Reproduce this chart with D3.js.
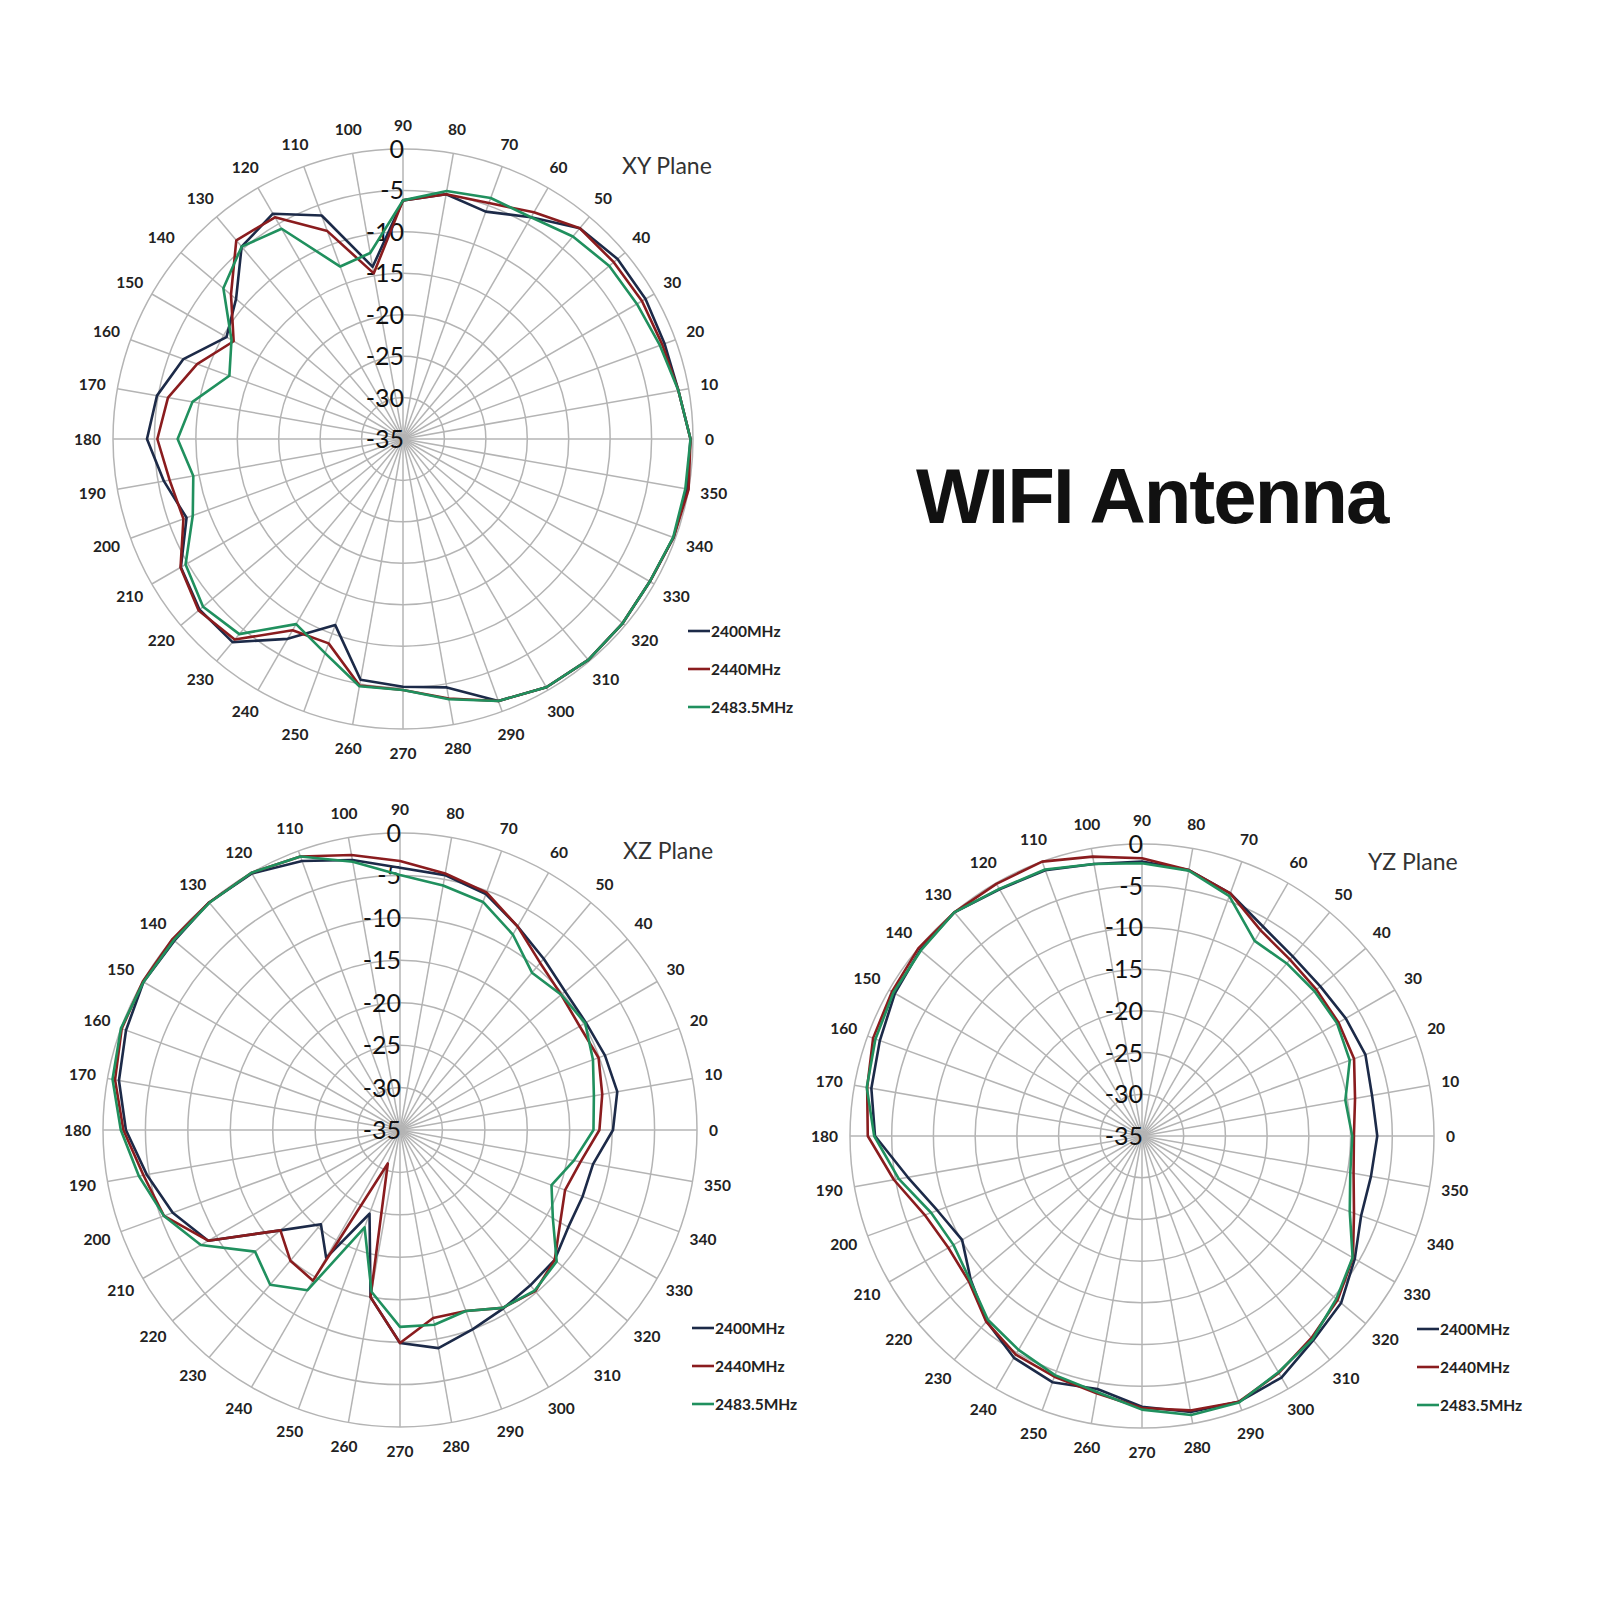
<!DOCTYPE html>
<html><head><meta charset="utf-8">
<script src="https://cdn.jsdelivr.net/npm/d3@7/dist/d3.min.js"></script>
<style>body{margin:0;background:#fff} svg{display:block}</style>
</head><body>
<svg id="c" width="1600" height="1600"></svg>
<script>
// ---------- data ----------
const angles = [0,10,20,30,40,50,60,70,80,90,100,110,120,130,140,150,160,170,
                180,190,200,210,220,230,240,250,260,270,280,290,300,310,320,330,340,350];
const dbTicks = [0,-5,-10,-15,-20,-25,-30,-35];
const seriesNames = ["2400MHz","2440MHz","2483.5MHz"];
const planeTitles = ["XY Plane","XZ Plane","YZ Plane"];
const mainTitle = "WIFI Antenna";

const xy2400 = [-0.3,-1.25,-1.4,-1.2,-1.2,-1.8,-4.1,-5.8,-5.0,-6.2,-13.9,-6.3,-3.6,-4.7,-8.7,-10.4,-6.8,-4.85,
                -4.1,-5.7,-7.2,-4.05,-2.95,-3.0,-7.15,-11.1,-5.5,-5.1,-4.56,-1.35,-0.4,-0.2,-0.4,-0.6,-0.25,-0.2];
const xy2440 = [-0.3,-1.25,-1.7,-1.7,-1.8,-1.8,-3.4,-4.7,-5.0,-6.2,-14.7,-8.3,-4.1,-3.7,-7.9,-11.4,-8.55,-6.2,
                -5.35,-6.4,-6.8,-4.0,-2.8,-3.4,-8.35,-8.75,-4.8,-4.7,-3.2,-1.35,-0.4,-0.2,-0.4,-0.6,-0.25,0];
const xy2483 = [-0.3,-1.25,-2.0,-2.4,-2.5,-3.1,-4.1,-4.05,-4.6,-6.2,-12.2,-12.85,-5.7,-4.7,-6.7,-11.1,-12.7,-9.2,
                -7.8,-9.3,-8.0,-4.7,-3.5,-4.26,-9.2,-7.5,-4.7,-4.7,-3.1,-1.35,-0.4,-0.2,-0.4,-0.6,-0.3,-0.4];

const xz2400 = [-9.9,-9.0,-9.3,-9.7,-9.6,-8.65,-7.3,-5.4,-4.5,-4.1,-2.7,-1.26,-0.1,0,-0.3,-0.1,-0.64,-1.37,
                -2.7,-4.7,-6.5,-8.9,-16.6,-20.5,-17.6,-24.5,-15.0,-9.9,-8.9,-10.0,-10.7,-11.1,-11.2,-12.1,-12.1,-11.9];
const xz2440 = [-11.5,-10.8,-10.1,-10.55,-10.2,-9.3,-7.3,-5.2,-4.3,-3.3,-2.1,-0.7,0,0,0,0,-0.1,-0.9,
                -2.4,-4.3,-5.4,-8.9,-16.6,-14.9,-14.5,-30.8,-15.0,-9.9,-12.5,-12.3,-10.8,-10.2,-11.2,-13.2,-14.3,-13.4];
const xz2483 = [-12.2,-11.8,-10.8,-9.8,-10.2,-10.8,-8.4,-6.4,-5.75,-4.95,-2.9,-0.7,0,-0.05,-0.2,-0.1,0,-0.6,
                -2.1,-3.75,-5.4,-7.9,-12.7,-11.2,-13.2,-22.8,-15.65,-11.8,-11.7,-12.3,-10.8,-10.3,-10.9,-14.2,-16.0,-14.2];

const yz2400 = [-6.8,-7.0,-6.5,-6.8,-7.1,-6.9,-6.0,-4.05,-2.64,-2.1,-1.9,-1.1,-0.85,0,-0.3,-0.8,-1.56,-2.06,
                -3.0,-6.5,-8.9,-10.1,-8.2,-6.0,-4.3,-3.6,-4.2,-2.55,-1.4,-1.1,-1.57,-3.05,-3.85,-5.55,-7.05,-7.13];
const yz2440 = [-9.6,-9.07,-7.95,-7.8,-7.7,-7.4,-6.55,-4.05,-2.64,-1.7,-1.0,0,-0.1,0,0,-0.4,-0.7,-1.55,
                -2.13,-4.8,-7.3,-8.2,-7.9,-5.95,-4.75,-4.3,-3.7,-2.4,-1.6,-1.1,-2.2,-3.4,-4.4,-5.8,-7.96,-9.25];
const yz2483 = [-9.8,-10.25,-8.5,-8.0,-8.0,-8.0,-8.0,-4.4,-2.7,-2.3,-1.9,-1.0,-0.8,0,-0.4,-0.6,-1.0,-1.5,
                -2.9,-5.4,-8.1,-8.9,-8.1,-6.25,-5.4,-4.5,-3.85,-2.2,-1.05,-1.0,-2.3,-3.2,-4.6,-5.85,-8.5,-9.65];

// ---------- layout / style ----------
const colors = ["#1c2a48","#8a1c1e","#20905e"];
const panels = [
  {title:planeTitles[0], series:[xy2400,xy2440,xy2483], cx:403, cy:439,  R:290, tx:622,  ty:174, lx:688,  ly:631},
  {title:planeTitles[1], series:[xz2400,xz2440,xz2483], cx:400, cy:1130, R:297, tx:623,  ty:859, lx:692,  ly:1328},
  {title:planeTitles[2], series:[yz2400,yz2440,yz2483], cx:1142,cy:1136, R:292, tx:1368, ty:870, lx:1417, ly:1329}
];

const svg = d3.select("#c");
svg.append("rect").attr("width",1600).attr("height",1600).attr("fill","#fff");

svg.append("text").attr("x",916).attr("y",523)
  .attr("font-family","'Liberation Sans', Arial, sans-serif").attr("font-weight","bold")
  .attr("font-size",78).attr("letter-spacing",-2).attr("fill","#111").text(mainTitle);

const rad = a => a*Math.PI/180;

panels.forEach(p => {
  const r = d3.scaleLinear().domain([-35,0]).range([0,p.R]);
  const g = svg.append("g").attr("transform",`translate(${p.cx},${p.cy})`);
  const grid = g.append("g").attr("stroke","#b4b4b4").attr("stroke-width",1.5).attr("fill","none");
  grid.selectAll("circle").data(dbTicks.filter(d=>d>-35)).join("circle").attr("r",d=>r(d));
  grid.selectAll("line").data(angles).join("line")
    .attr("x1",0).attr("y1",0)
    .attr("x2",a=>r(0)*Math.cos(rad(a))).attr("y2",a=>-r(0)*Math.sin(rad(a)));

  // radial tick labels along 90° spoke
  g.append("g").selectAll("text").data(dbTicks).join("text")
    .attr("x",1).attr("y",d=>-r(d)).attr("dy","0.36em")
    .attr("text-anchor","end")
    .attr("font-family","Lato, 'Open Sans', sans-serif").attr("font-size",25).attr("fill","#111")
    .text(d=>d);

  // angle labels, pushed outward by half their box
  const lab = a => {
    const c = Math.cos(rad(a)), s = Math.sin(rad(a));
    const w = String(a).length*9;
    return [(p.R+12)*c + c*w/2, -(p.R+12)*s - s*12];
  };
  g.append("g").selectAll("text").data(angles).join("text")
    .attr("x",a=>lab(a)[0]).attr("y",a=>lab(a)[1])
    .attr("dy","0.36em").attr("text-anchor","middle")
    .attr("font-family","Lato, sans-serif").attr("font-weight","bold").attr("font-size",15.5).attr("fill","#222")
    .text(a=>a);

  const line = d3.lineRadial()
    .angle((d,i)=>Math.PI/2 - rad(angles[i]))
    .radius(d=>r(Math.max(-35,Math.min(0,d))))
    .curve(d3.curveLinearClosed);
  p.series.forEach((s,i)=>{
    g.append("path").attr("d",line(s)).attr("fill","none")
      .attr("stroke",colors[i]).attr("stroke-width",2.6).attr("stroke-linejoin","round");
  });

  svg.append("text").attr("x",p.tx).attr("y",p.ty)
    .attr("font-family","Lato, sans-serif").attr("font-size",23).attr("fill","#333").text(p.title);

  const lg = svg.append("g");
  seriesNames.forEach((n,i)=>{
    const y = p.ly + i*38;
    lg.append("line").attr("x1",p.lx).attr("x2",p.lx+22).attr("y1",y).attr("y2",y)
      .attr("stroke",colors[i]).attr("stroke-width",2.6);
    lg.append("text").attr("x",p.lx+23).attr("y",y).attr("dy","0.36em")
      .attr("font-family","Lato, sans-serif").attr("font-weight","bold").attr("font-size",15.5).attr("fill","#222")
      .text(n);
  });
});
</script>
</body></html>
